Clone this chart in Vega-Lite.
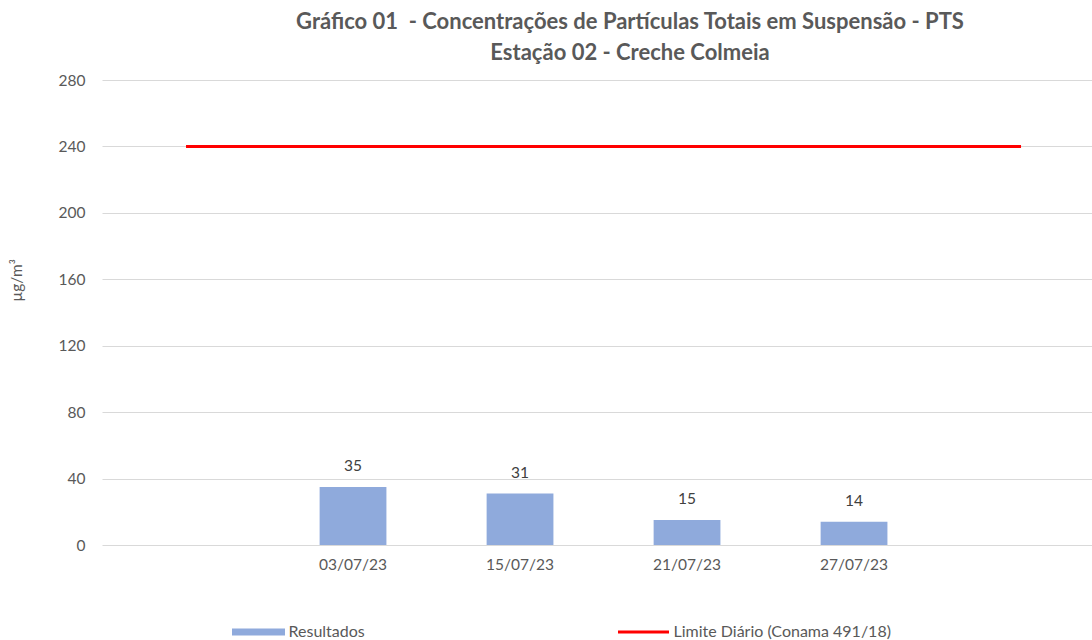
{
  "$schema": "https://vega.github.io/schema/vega-lite/v6.json",
  "width": 990,
  "height": 465,
  "autosize": {"type": "none"},
  "padding": {"left": 102, "top": 80, "right": 0, "bottom": 95},
  "background": "white",
  "config": {
    "font": "Lato",
    "view": {"stroke": null}
  },
  "title": {
    "text": ["Gráfico 01\u00a0 - Concentrações de Partículas Totais em Suspensão - PTS", "Estação 02 - Creche Colmeia"],
    "fontSize": 22,
    "fontWeight": "bold",
    "color": "#595959",
    "lineHeight": 31,
    "anchor": "middle",
    "dx": 33,
    "offset": 8
  },
  "datasets": {
    "bars": [
      {"d": "03/07/23", "v": 35, "s": "Resultados"},
      {"d": "15/07/23", "v": 31, "s": "Resultados"},
      {"d": "21/07/23", "v": 15, "s": "Resultados"},
      {"d": "27/07/23", "v": 14, "s": "Resultados"}
    ],
    "limit": [
      {"d": "a", "v": 240, "s": "Limite Diário (Conama 491/18)"},
      {"d": "b", "v": 240, "s": "Limite Diário (Conama 491/18)"}
    ]
  },
  "encoding": {
    "x": {
      "field": "d",
      "type": "nominal",
      "sort": null,
      "scale": {
        "domain": ["a", "03/07/23", "15/07/23", "21/07/23", "27/07/23", "b"],
        "paddingInner": 0.6,
        "paddingOuter": 0.264,
        "align": 0.574
      },
      "axis": {
        "title": null,
        "labelAngle": 0,
        "labelExpr": "datum.value == 'a' || datum.value == 'b' ? '' : datum.value",
        "labelFontSize": 15.5,
        "labelColor": "#595959",
        "labelPadding": 12,
        "ticks": false,
        "domain": false,
        "grid": false
      }
    },
    "y": {
      "field": "v",
      "type": "quantitative",
      "scale": {"domain": [0, 280], "nice": false},
      "axis": {
        "title": "µg/m³",
        "titleFontSize": 15.5,
        "titleFontWeight": "normal",
        "titleColor": "#595959",
        "titleX": -78,
        "titleY": 200,
        "values": [0, 40, 80, 120, 160, 200, 240, 280],
        "labelFontSize": 15.5,
        "labelColor": "#595959",
        "labelPadding": 17,
        "ticks": false,
        "domain": false,
        "grid": true,
        "gridColor": "#D9D9D9",
        "gridWidth": 1
      }
    },
    "color": {
      "field": "s",
      "type": "nominal",
      "scale": {
        "domain": ["Resultados", "Limite Diário (Conama 491/18)"],
        "range": ["#8FAADC", "#FF0000"]
      },
      "legend": {
        "title": null,
        "orient": "none",
        "direction": "horizontal",
        "legendX": 148.5,
        "legendY": 544,
        "padding": 0,
        "symbolSize": 400,
        "labelOffset": 22,
        "columnPadding": 246,
        "labelFontSize": 16,
        "labelColor": "#595959",
        "labelLimit": 400,
        "encode": {
          "symbols": {
            "update": {
              "shape": {"signal": "datum.value === 'Resultados' ? 'M-2.65,-0.35H2.65V0.35H-2.65Z' : 'M-2.55,0H2.55'"},
              "strokeWidth": {"signal": "datum.value === 'Resultados' ? 0 : 3"},
              "fill": {"signal": "datum.value === 'Resultados' ? '#8FAADC' : 'transparent'"},
              "stroke": {"signal": "datum.value === 'Resultados' ? '#8FAADC' : '#FF0000'"},
              "opacity": {"value": 1},
              "fillOpacity": {"value": 1},
              "strokeOpacity": {"value": 1}
            }
          }
        }
      }
    }
  },
  "layer": [
    {
      "data": {"name": "bars"},
      "mark": {"type": "bar", "opacity": 1}
    },
    {
      "data": {"name": "bars"},
      "mark": {"type": "text", "baseline": "middle", "dy": -21, "fontSize": 15.5, "color": "#404040"},
      "encoding": {
        "text": {"field": "v", "type": "quantitative"},
        "color": {"value": "#404040"}
      }
    },
    {
      "data": {"name": "limit"},
      "mark": {"type": "line", "strokeWidth": 3},
      "encoding": {}
    }
  ]
}
